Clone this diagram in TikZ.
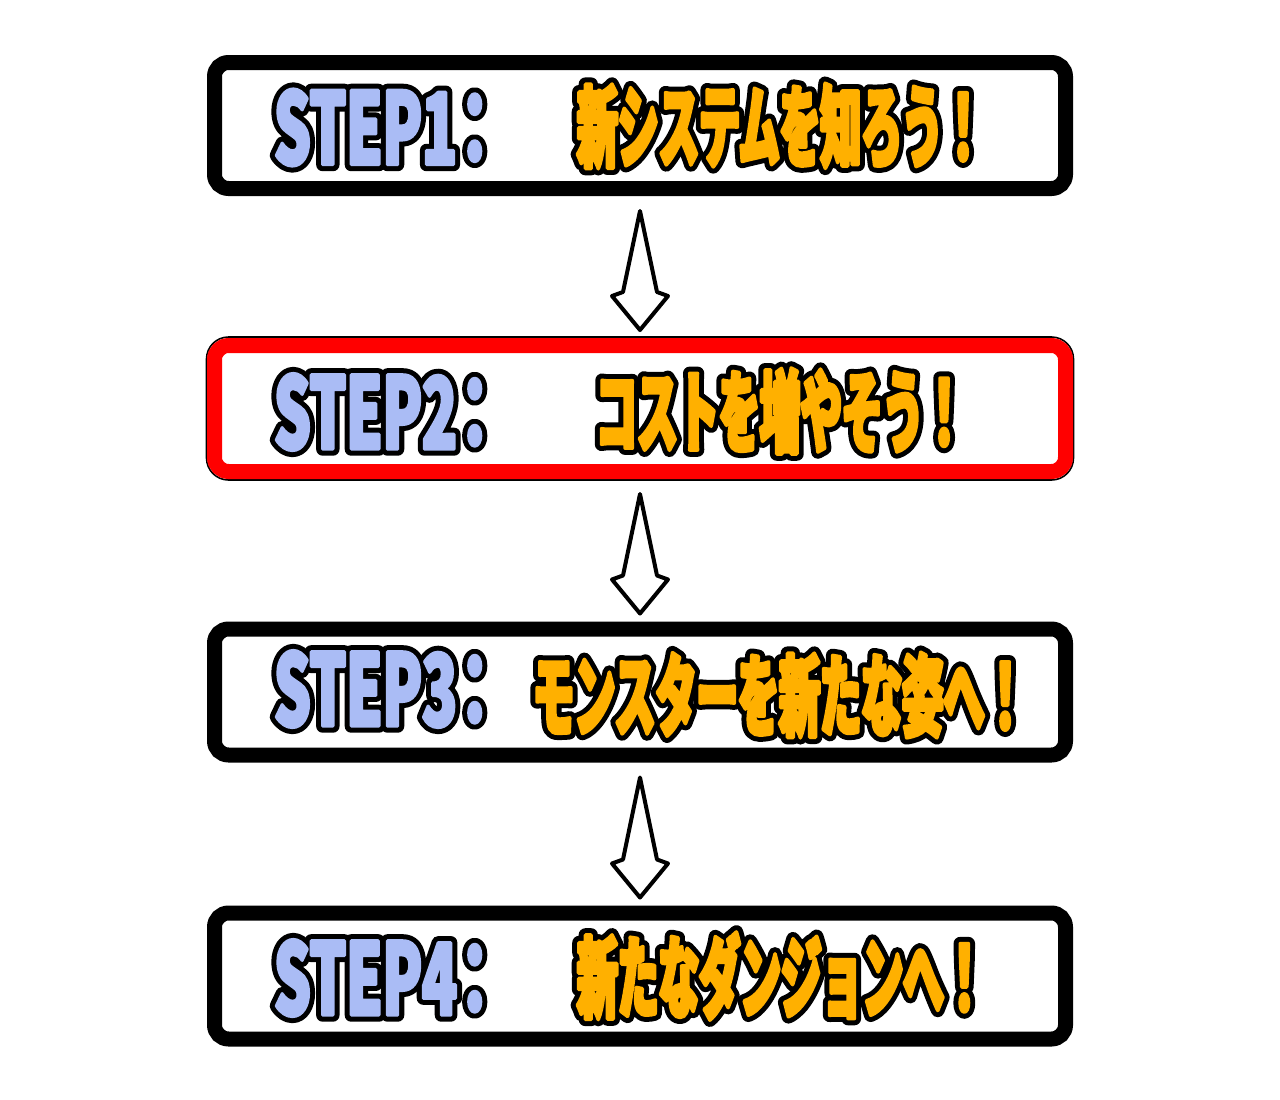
\documentclass[tikz,border=0pt]{standalone}
\usepackage{fontspec}
\usetikzlibrary{calc}
\definecolor{stepblue}{RGB}{170,188,245}
\definecolor{jporange}{RGB}{255,176,0}
\definecolor{boxred}{RGB}{255,0,0}
% outlined text: #1 stretch, #2 font size, #3 fill colour, #4 text, #5 outline embolden, #6 fill embolden
\newcommand\otext[6]{%
  \special{pdf:code 1 j 1 J}%
  \makebox[0pt][l]{\fontspec{Noto Sans CJK JP}[FakeStretch=#1,FakeBold=#5]\fontsize{#2pt}{#2pt}\selectfont\bfseries\color{black}#4}%
  {\fontspec{Noto Sans CJK JP}[FakeStretch=#1,FakeBold=#6]\fontsize{#2pt}{#2pt}\selectfont\bfseries\color{#3}#4}}
\newcommand\hollowdown[2]{%
  \draw[hollowarrow] (#1) -- ($(#2)+(-17,-38)$) -- ($(#2)+(-28,-34)$) -- (#2)
    -- ($(#2)+(28,-34)$) -- ($(#2)+(17,-38)$) -- cycle;}
\tikzset{
  stepbox/.style={draw=black, fill=white, line width=15pt, rounded corners=14pt,
    minimum width=851pt, minimum height=126pt, inner sep=0pt, outer sep=0pt},
  redbox/.style={draw=boxred, fill=white, line width=15pt, rounded corners=14pt,
    minimum width=851pt, minimum height=126pt, inner sep=0pt, outer sep=0pt},
  redrim/.style={draw=black, line width=1.6pt, rounded corners=22pt},
  lbl/.style={inner sep=0pt, outer sep=0pt},
  hollowarrow/.style={draw=black, fill=white, line width=4pt, line join=round}
}
\begin{document}
\begin{tikzpicture}[x=1pt, y=-1pt]
\fill[white] (0,0) rectangle (1280,1100);
\useasboundingbox (0,0) rectangle (1280,1100);

% boxes
\node[stepbox] (b1) at (640,125.5) {};
\draw[redrim] (215-8.5,345.5-8.5) rectangle (1065+8.5,471.5+8.5);
\node[redbox] (b2) at (640,408.5) {};
\node[stepbox] (b3) at (640,692) {};
\node[stepbox] (b4) at (640,976) {};

% arrows
\coordinate (a1t) at ($(b1.south)+(0,22.5)$);
\coordinate (a1p) at ($(b2.north)+(0,-15.5)$);
\coordinate (a2t) at ($(b2.south)+(0,22.5)$);
\coordinate (a2p) at ($(b3.north)+(0,-15.5)$);
\coordinate (a3t) at ($(b3.south)+(0,22.5)$);
\coordinate (a3p) at ($(b4.north)+(0,-15.5)$);
\hollowdown{a1t}{a1p}
\hollowdown{a2t}{a2p}
\hollowdown{a3t}{a3p}

% texts
\node[lbl, anchor=west] (s1) at (274,127.5) {\otext{0.575}{100}{stepblue}{STEP1\kern-11pt：}{13}{3}};
\node[lbl, anchor=west] (j1) at (577,126) {\otext{0.453}{90}{jporange}{新システムを知ろう！}{15}{4}};

\node[lbl, anchor=west] (s2) at (274,412) {\otext{0.575}{100}{stepblue}{STEP2\kern-11pt：}{13}{3}};
\node[lbl, anchor=west] (j2) at (596,411) {\otext{0.455}{90}{jporange}{コストを増やそう！}{15}{4}};

\node[lbl, anchor=west] (s3) at (274,689) {\otext{0.575}{100}{stepblue}{STEP3\kern-11pt：}{13}{3}};
\node[lbl, anchor=west] (j3) at (533,695) {\otext{0.457}{90}{jporange}{モンスターを新たな姿へ！}{15}{4}};

\node[lbl, anchor=west] (s4) at (274,978) {\otext{0.575}{100}{stepblue}{STEP4\kern-11pt：}{13}{3}};
\node[lbl, anchor=west] (j4) at (577,976) {\otext{0.453}{90}{jporange}{新たなダンジョンへ！}{15}{4}};
\end{tikzpicture}
\end{document}
